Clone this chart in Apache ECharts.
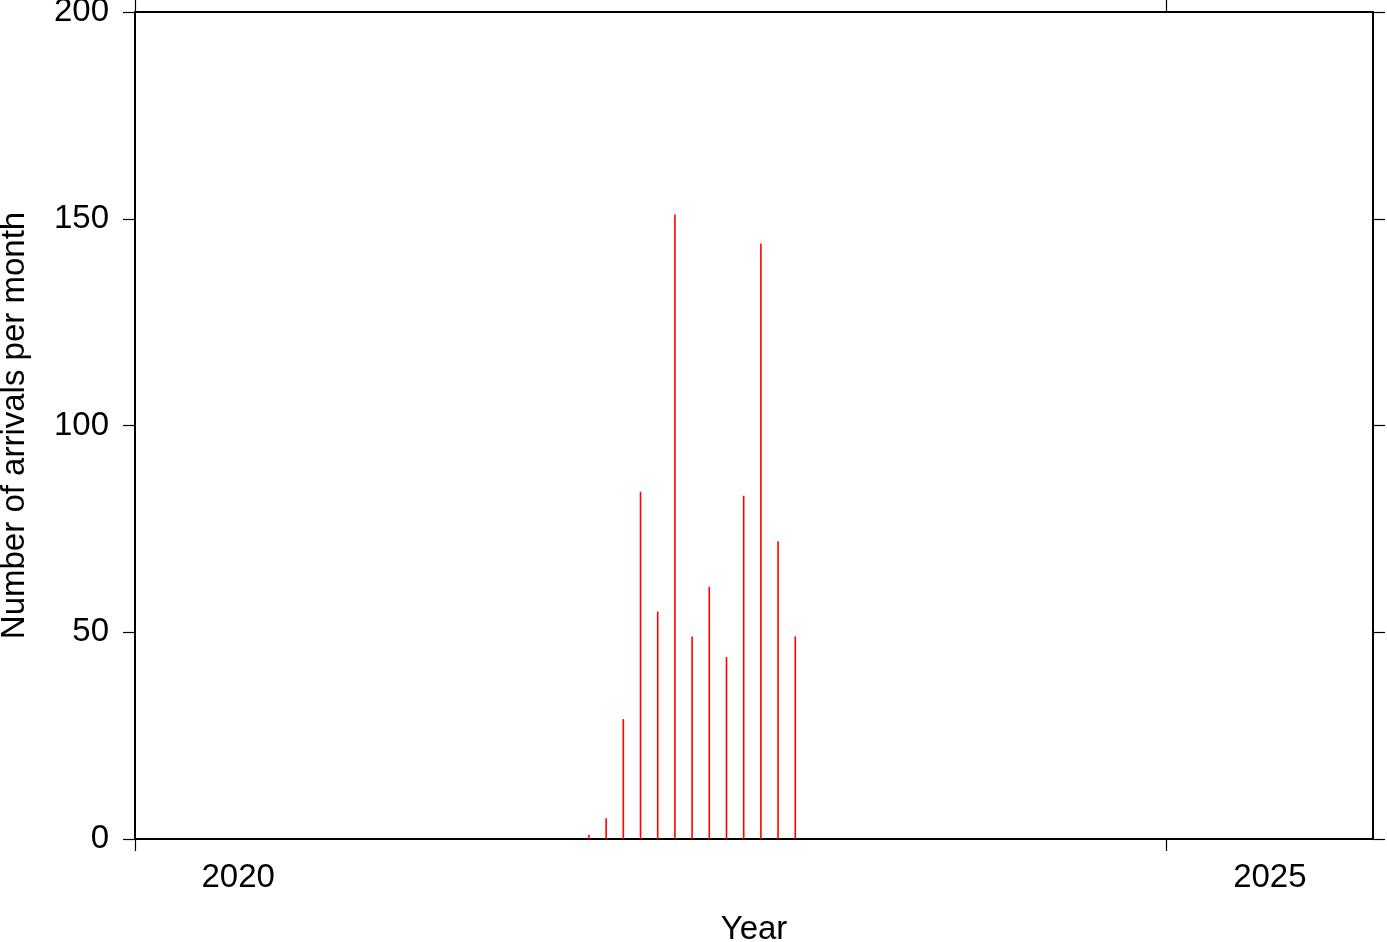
<!DOCTYPE html>
<html>
<head>
<meta charset="utf-8">
<script src="https://cdn.jsdelivr.net/npm/echarts@6/dist/echarts.min.js"></script>
<style>
html,body{margin:0;padding:0;background:#fff;}
#chart{width:1387px;height:942px;}
</style>
</head>
<body>
<div id="chart"></div>
<script>
// Data (monthly arrival counts)
const months = ['2022-03','2022-04','2022-05','2022-06','2022-07','2022-08','2022-09','2022-10','2022-11','2022-12','2023-01','2023-02','2023-03'];
const arrivals = [1, 5, 29, 84, 55, 151, 49, 61, 44, 83, 144, 72, 49];
const xTickYears = [2020, 2025];
const xTickLabels = ['2020', '2025'];
const yMin = 0, yMax = 200, yStep = 50;
const xMin = 2020, xMax = 2026;

// month string -> decimal year (bar drawn within its month)
function monthToYear(s) {
  const [y, m] = s.split('-').map(Number);
  return y + (m - 1 + 0.4) / 12;
}
const seriesData = months.map((m, i) => [monthToYear(m), arrivals[i]]);

const FONT = 'Liberation Sans, Arial, Helvetica, sans-serif';
const FS = 33;
const black = '#000';

const chart = echarts.init(document.getElementById('chart'), null, {renderer: 'canvas'});
chart.setOption({
  animation: false,
  backgroundColor: '#fff',
  grid: {left: 135, right: 14, top: 12, bottom: 103, containLabel: false, outerBoundsMode: 'none'},
  xAxis: [
    {
      type: 'value', position: 'bottom', min: xMin, max: xMax,
      name: 'Year', nameLocation: 'middle', nameGap: 74,
      nameTextStyle: {fontFamily: FONT, fontSize: FS, color: black},
      axisLine: {show: true, onZero: false, lineStyle: {color: black, width: 2}},
      axisTick: {show: true, inside: false, length: 12, customValues: xTickYears, lineStyle: {color: black, width: 1.2}},
      axisLabel: {
        show: true, margin: 22, customValues: xTickYears.map(v => v + 0.5),
        fontFamily: FONT, fontSize: FS, color: black,
        formatter: function (v) { const i = xTickYears.indexOf(Math.floor(v)); return i >= 0 ? xTickLabels[i] : ''; }
      },
      splitLine: {show: false}
    },
    {
      type: 'value', position: 'top', min: xMin, max: xMax,
      axisLine: {show: true, onZero: false, lineStyle: {color: black, width: 2}},
      axisTick: {show: true, inside: false, length: 12, customValues: xTickYears, lineStyle: {color: black, width: 1.2}},
      axisLabel: {show: false},
      splitLine: {show: false}
    }
  ],
  yAxis: [
    {
      type: 'value', position: 'left', min: yMin, max: yMax, interval: yStep,
      name: 'Number of arrivals per month', nameLocation: 'middle', nameGap: 104, nameRotate: 90,
      nameTextStyle: {fontFamily: FONT, fontSize: FS, color: black},
      axisLine: {show: true, onZero: false, lineStyle: {color: black, width: 2}},
      axisTick: {show: true, inside: false, length: 12, lineStyle: {color: black, width: 1.2}},
      axisLabel: {show: true, margin: 26, fontFamily: FONT, fontSize: FS, color: black},
      splitLine: {show: false}
    },
    {
      type: 'value', position: 'right', min: yMin, max: yMax, interval: yStep,
      axisLine: {show: true, onZero: false, lineStyle: {color: black, width: 2}},
      axisTick: {show: true, inside: false, length: 12, lineStyle: {color: black, width: 1.2}},
      axisLabel: {show: false},
      splitLine: {show: false}
    }
  ],
  series: [
    {
      type: 'bar', xAxisIndex: 0, yAxisIndex: 0,
      data: seriesData,
      barWidth: 1.6,
      itemStyle: {color: '#ff0000'},
      silent: true
    }
  ]
});
</script>
</body>
</html>
